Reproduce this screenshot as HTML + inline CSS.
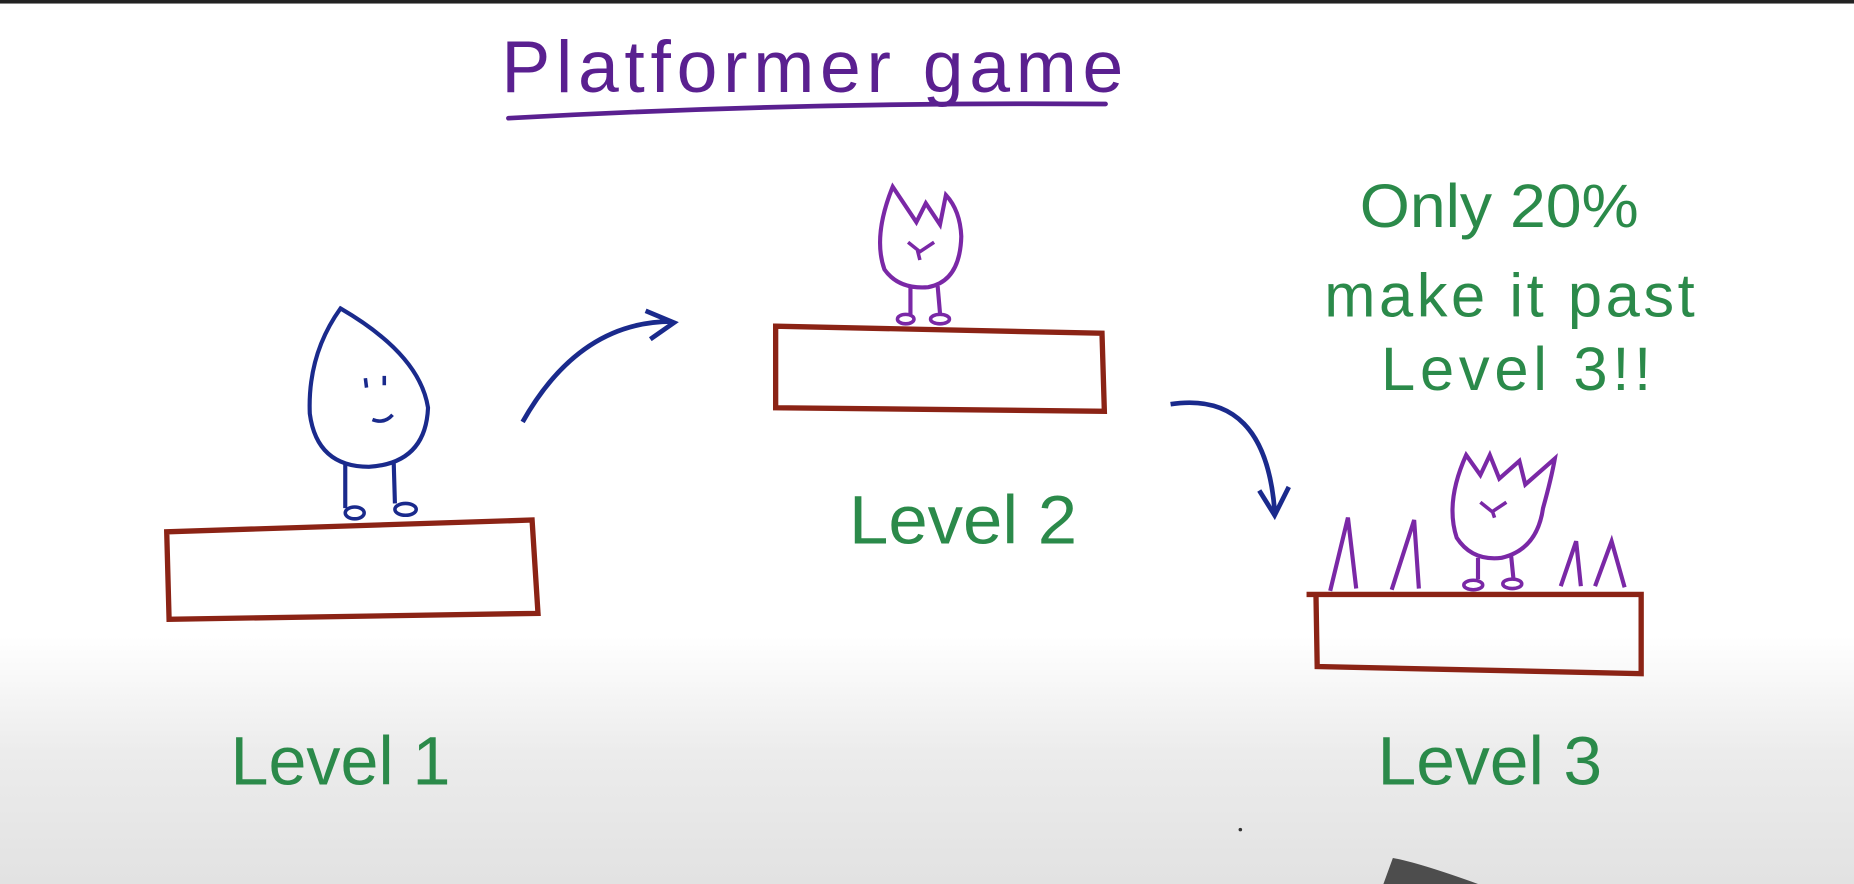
<!DOCTYPE html>
<html><head><meta charset="utf-8"><style>
html,body{margin:0;padding:0;width:1854px;height:884px;overflow:hidden;background:#fff}
svg{display:block}
text{font-family:"Liberation Sans",sans-serif}
</style></head><body>
<svg width="1854" height="884" viewBox="0 0 1568 748" preserveAspectRatio="none" xmlns="http://www.w3.org/2000/svg">
<defs>
<linearGradient id="bg" x1="0" y1="0" x2="0" y2="1">
<stop offset="0" stop-color="#ffffff"/>
<stop offset="0.72" stop-color="#ffffff"/>
<stop offset="0.85" stop-color="#ececec"/>
<stop offset="1" stop-color="#e2e2e2"/>
</linearGradient>
</defs>
<rect width="1568" height="748" fill="url(#bg)"/>
<rect width="1568" height="3" fill="#222"/>
<!-- title -->
<text x="424" y="78" font-size="62" fill="#5a2090" textLength="526" lengthAdjust="spacing">Platformer  game</text>
<path d="M430 100 Q680 86 935 88" stroke="#5a2090" stroke-width="4" fill="none" stroke-linecap="round"/>
<!-- Level1 -->
<path d="M141 450 L450 440 L455 519 L143 524 Z" stroke="#8b2315" stroke-width="4.5" fill="none"/>
<path d="M288 261 Q260 300 262 350 Q268 395 312 395 Q360 392 362 345 Q355 300 288 261 Z" stroke="#1a2a8c" stroke-width="3.5" fill="none"/>
<path d="M309 320 l1 8 M325 318 l0 8 M315 355 q10 4 17 -4" stroke="#1a2a8c" stroke-width="3" fill="none"/>
<path d="M292 393 L292 430 M333 392 L334 426" stroke="#1a2a8c" stroke-width="3.5" fill="none"/>
<ellipse cx="300" cy="434" rx="8" ry="5" stroke="#1a2a8c" stroke-width="3" fill="none"/>
<ellipse cx="343" cy="431" rx="9" ry="5" stroke="#1a2a8c" stroke-width="3" fill="none"/>
<path d="M442 357 Q490 272 568 272" stroke="#1a2a8c" stroke-width="4" fill="none"/>
<path d="M546 263 L570 273 L550 287" stroke="#1a2a8c" stroke-width="4" fill="none"/>
<text x="195" y="664" font-size="58" fill="#2b8a4a" textLength="186" lengthAdjust="spacingAndGlyphs">Level 1</text>
<!-- Level2 -->
<path d="M656 276 L932 282 L934 348 L656 345 Z" stroke="#8b2315" stroke-width="4.5" fill="none"/>
<path d="M755 158 Q738 200 748 228 Q760 245 785 243 Q812 238 813 200 Q812 178 800 165 L795 190 L783 172 L775 188 Z" stroke="#7a28a6" stroke-width="3.5" fill="none"/>
<path d="M768 205 l10 8 l12 -8 M776 212 l2 8" stroke="#7a28a6" stroke-width="3" fill="none"/>
<path d="M770 243 L770 266 M793 242 L795 265" stroke="#7a28a6" stroke-width="3.5" fill="none"/>
<ellipse cx="766" cy="270" rx="7" ry="4" stroke="#7a28a6" stroke-width="3" fill="none"/>
<ellipse cx="795" cy="270" rx="8" ry="4" stroke="#7a28a6" stroke-width="3" fill="none"/>
<text x="718" y="460" font-size="58" fill="#2b8a4a" textLength="193" lengthAdjust="spacingAndGlyphs">Level 2</text>
<path d="M990 342 Q1070 330 1078 432" stroke="#1a2a8c" stroke-width="4" fill="none"/>
<path d="M1065 415 L1078 436 L1090 412" stroke="#1a2a8c" stroke-width="4" fill="none"/>
<!-- Level3 -->
<path d="M1105 503 L1388 503 L1388 570 L1114 564 L1113 505" stroke="#8b2315" stroke-width="4.5" fill="none"/>
<path d="M1125 500 L1140 438 L1147 498 M1177 499 L1196 440 L1200 498 M1320 496 L1333 458 L1337 496 M1349 496 L1363 458 L1374 497" stroke="#7a28a6" stroke-width="3.5" fill="none"/>
<path d="M1240 385 Q1222 425 1232 455 Q1245 475 1270 472 Q1300 465 1305 430 Q1312 405 1315 388 L1290 410 L1285 390 L1268 405 L1260 385 L1252 402 Z" stroke="#7a28a6" stroke-width="3.5" fill="none"/>
<path d="M1252 425 l10 8 l12 -8 M1262 432 l2 6" stroke="#7a28a6" stroke-width="3" fill="none"/>
<path d="M1250 472 L1250 490 M1278 470 L1280 490" stroke="#7a28a6" stroke-width="3.5" fill="none"/>
<ellipse cx="1246" cy="495" rx="8" ry="4" stroke="#7a28a6" stroke-width="3" fill="none"/>
<ellipse cx="1279" cy="494" rx="8" ry="4" stroke="#7a28a6" stroke-width="3" fill="none"/>
<text x="1165" y="664" font-size="58" fill="#2b8a4a" textLength="190" lengthAdjust="spacingAndGlyphs">Level 3</text>
<text x="1150" y="192" font-size="52" fill="#2b8a4a" textLength="236" lengthAdjust="spacingAndGlyphs">Only 20%</text>
<text x="1120" y="268" font-size="52" fill="#2b8a4a" letter-spacing="3">make it past</text>
<text x="1168" y="330" font-size="52" fill="#2b8a4a" letter-spacing="4">Level 3!!</text>
<circle cx="1049" cy="702" r="1.5" fill="#333"/>
<path d="M1170 748 L1178 726 Q1200 730 1250 748 Z" fill="#333" opacity="0.85"/>
</svg>
</body></html>
